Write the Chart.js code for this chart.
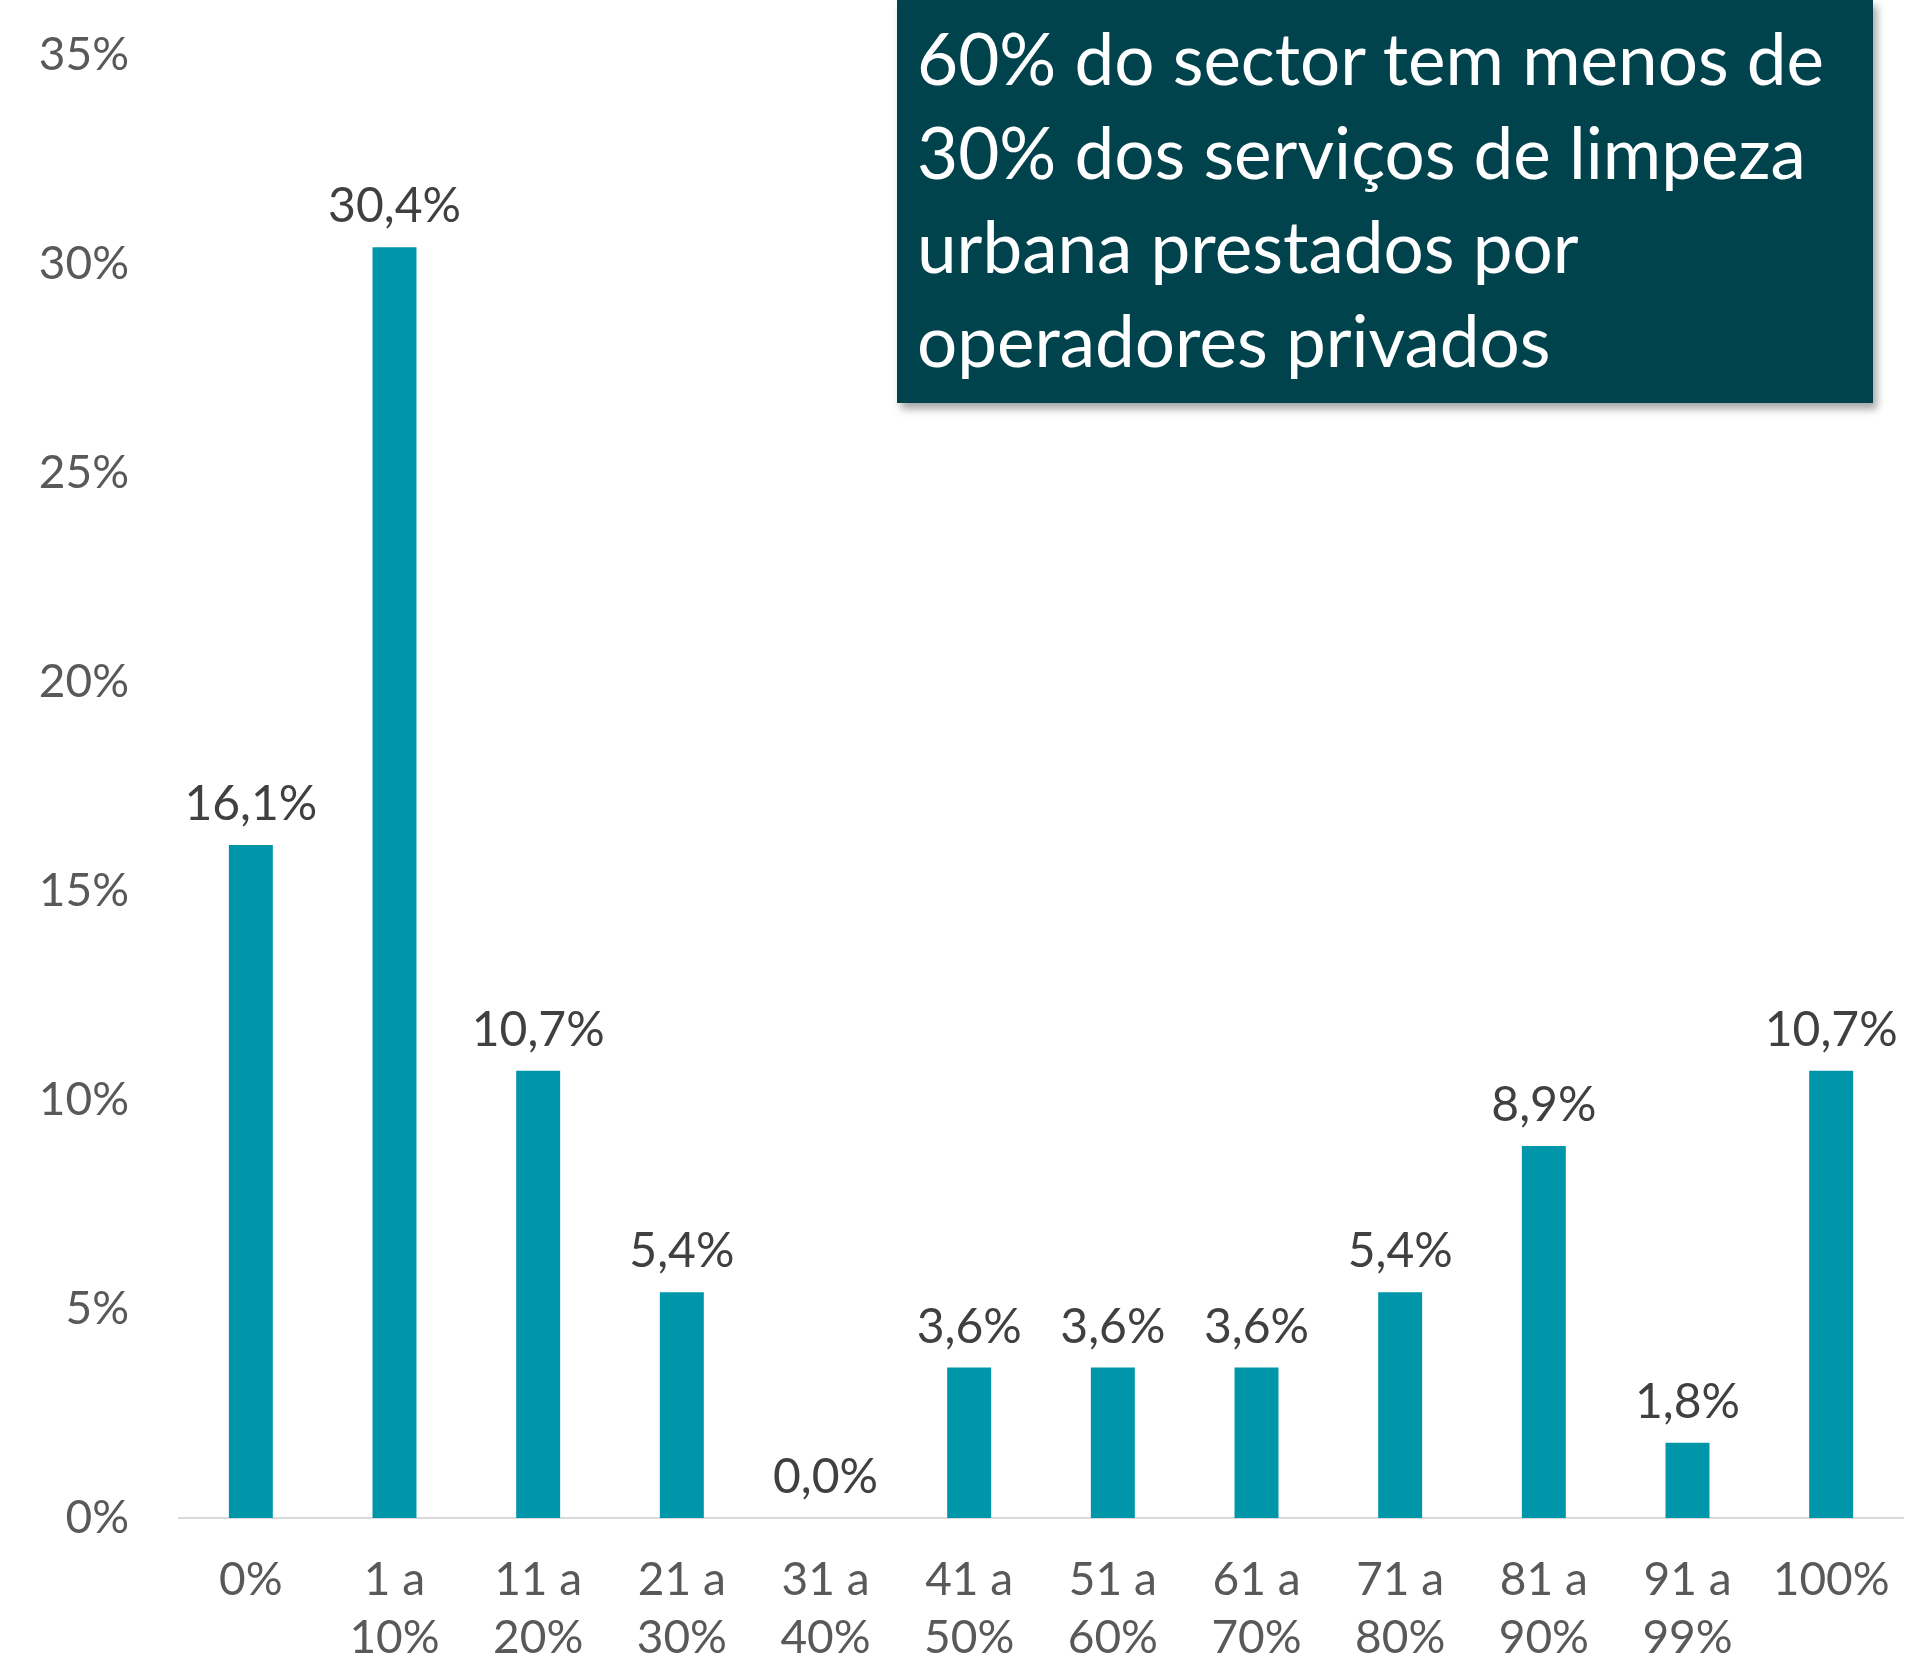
<!DOCTYPE html>
<html>
<head>
<meta charset="utf-8">
<script src="https://cdn.jsdelivr.net/npm/chart.js@4"></script>
<style>
  html, body { margin: 0; padding: 0; background: #ffffff; }
  #wrap { position: relative; width: 1931px; height: 1660px; }
  #grafico { position: absolute; left: 0; top: 0; }
  .nota {
    position: absolute;
    left: 897px; top: 0px;
    width: 956px; height: 392px;
    padding: 11px 0 0 20px;
    background: #01434d;
    color: #ffffff;
    font-family: Lato, sans-serif;
    font-size: 71px;
    line-height: 94px;
    box-shadow: 4px 6px 8px rgba(0, 0, 0, 0.35);
    white-space: nowrap;
  }
</style>
</head>
<body>
<div id="wrap">
  <canvas id="grafico" width="1931" height="1660"></canvas>
  <div class="nota">60% do sector tem menos de<br>30% dos serviços de limpeza<br>urbana prestados por<br>operadores privados</div>
</div>
<script>
// categorias (percentagem de serviços prestados por privados)
const categorias = [
    ['0%'], ['1 a', '10%'], ['11 a', '20%'], ['21 a', '30%'], ['31 a', '40%'],
    ['41 a', '50%'], ['51 a', '60%'], ['61 a', '70%'], ['71 a', '80%'],
    ['81 a', '90%'], ['91 a', '99%'], ['100%']
];
// % do sector
const valores = [16.1, 30.4, 10.7, 5.4, 0.0, 3.6, 3.6, 3.6, 5.4, 8.9, 1.8, 10.7];
const ticksY = [0, 5, 10, 15, 20, 25, 30, 35];

const fmt = v => v.toFixed(1).replace('.', ',') + '%';

// etiquetas por cima das barras
const etiquetas = {
    id: 'etiquetas',
    afterDatasetsDraw(chart) {
        const ctx = chart.ctx;
        const meta = chart.getDatasetMeta(0);
        ctx.save();
        ctx.font = '48px Lato';
        ctx.fillStyle = '#404040';
        ctx.textAlign = 'center';
        ctx.textBaseline = 'alphabetic';
        meta.data.forEach((bar, i) => {
            ctx.fillText(fmt(valores[i]), bar.x, bar.y - 25);
        });
        ctx.restore();
    }
};

const ctx = document.getElementById('grafico').getContext('2d');
const grafico = new Chart(ctx, {
    type: 'bar',
    data: {
        labels: categorias,
        datasets: [{
            data: valores,
            backgroundColor: '#0096a9',
            categoryPercentage: 1,
            barPercentage: 0.306
        }]
    },
    options: {
        responsive: false,
        animation: false,
        layout: { padding: { top: 55, right: 28, bottom: 0, left: 0 } },
        plugins: {
            legend: { display: false },
            tooltip: { enabled: false }
        },
        scales: {
            x: {
                grid: { display: false, drawTicks: false },
                border: { display: true, color: '#d9d9d9', width: 2 },
                ticks: {
                    color: '#595959',
                    font: { family: 'Lato', size: 46, lineHeight: 1.26 },
                    padding: 33,
                    maxRotation: 0,
                    autoSkip: false
                },
                afterFit(scale) {
                    scale.height = 142;
                    scale.paddingLeft = 0;
                    scale.paddingRight = 0;
                }
            },
            y: {
                min: 0,
                max: 35,
                afterBuildTicks(scale) {
                    scale.ticks = ticksY.map(v => ({ value: v }));
                },
                grid: { display: false, drawTicks: false },
                border: { display: false },
                ticks: {
                    color: '#595959',
                    font: { family: 'Lato', size: 46 },
                    padding: 50,
                    callback: v => v + '%'
                },
                afterFit(scale) {
                    scale.width = 179;
                    scale.paddingTop = 0;
                    scale.paddingBottom = 0;
                }
            }
        }
    },
    plugins: [etiquetas]
});
</script>
</body>
</html>
